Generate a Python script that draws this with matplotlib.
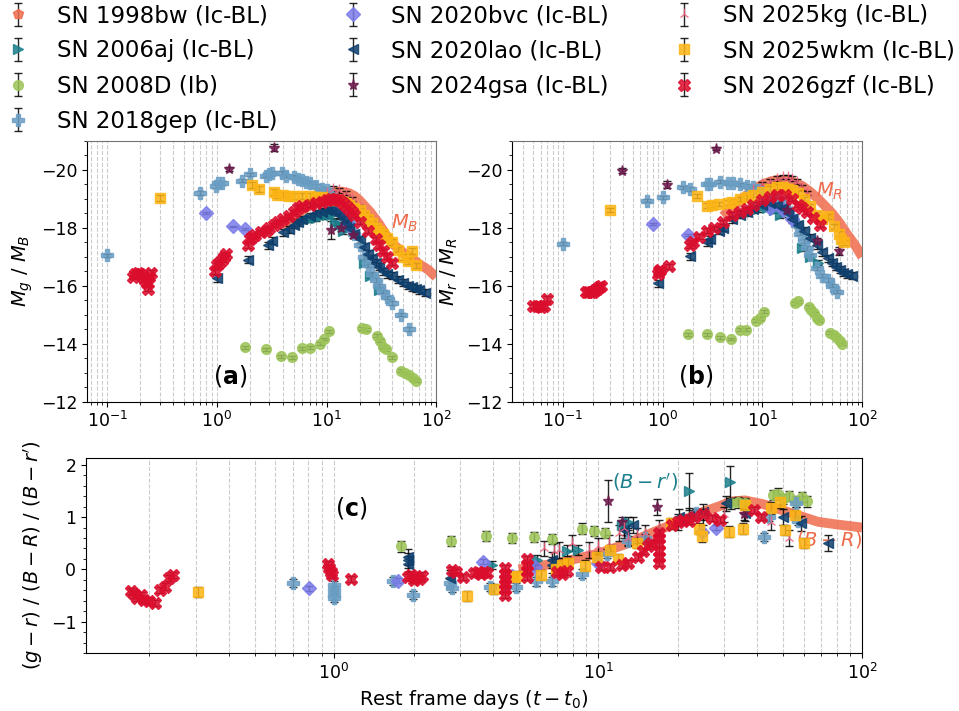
import matplotlib
matplotlib.use("Agg")
import matplotlib.pyplot as plt
import numpy as np
from matplotlib.ticker import MultipleLocator

# ---------------- panel (a): M_g / M_B ----------------
bw_ta = [4, 6, 8, 10, 12, 14, 16, 18, 20, 25, 30, 35, 40, 50, 60, 70, 85, 100]
bw_ma = [-18.0, -18.6, -18.95, -19.15, -19.25, -19.25, -19.2, -19.1, -18.95, -18.55,
         -18.15, -17.75, -17.45, -17.15, -16.95, -16.75, -16.55, -16.3]

aj_ta = [6.0, 7.0, 8.0, 9.0, 10.0, 11.0, 12.0, 13.0, 14.0, 22.0, 25.0, 30.0]
aj_ma = [-18.25, -18.3, -18.35, -18.4, -18.45, -18.45, -18.2, -18.1, -17.9, -16.8, -16.35, -15.85]

d_ta = [1.8, 2.8, 3.8, 4.8, 6.0, 7.0, 8.7, 9.5, 10.5, 21.0, 23.0, 29.0, 31.0, 33.0, 35.0,
        40.0, 48.0, 52.0, 57.0, 62.0, 66.0]
d_ma = [-13.87, -13.8, -13.56, -13.53, -13.84, -13.86, -13.99, -14.16, -14.42, -14.53, -14.5,
        -14.28, -14.1, -13.9, -13.8, -13.53, -13.06, -12.98, -12.9, -12.8, -12.72]

gep_ta = [0.1, 0.7, 0.98, 1.02, 1.1, 1.7, 2.0, 2.8, 3.0, 3.2, 3.9, 4.3, 5.0, 5.5, 6.0, 6.5,
          7.0, 8.0, 9.0, 10.0, 11.0, 12.0, 13.0, 14.0, 16.0, 18.0, 20.0, 22.0, 24.0, 26.0,
          28.0, 30.0, 33.0, 36.0, 40.0, 48.0, 57.0]
gep_ma = [-17.05, -19.2, -19.45, -19.55, -19.55, -19.63, -19.85, -19.8, -19.85, -19.9, -19.9,
          -19.8, -19.75, -19.7, -19.65, -19.6, -19.55, -19.45, -19.35, -19.3, -19.15, -19.0,
          -18.8, -18.6, -18.2, -17.8, -17.4, -17.0, -16.7, -16.4, -16.2, -16.0, -15.8, -15.6,
          -15.4, -15.0, -14.5]

bvc_ta = [0.8, 1.4, 1.8, 12.0, 14.0, 16.0]
bvc_ma = [-18.5, -18.05, -17.95, -18.7, -18.5, -18.1]

lao_ta = [1.0, 1.9, 2.9, 3.2, 4.0, 4.5, 5.0, 5.5, 6.0, 7.0, 8.0, 9.0, 10.0, 11.0, 12.0, 13.0,
          14.0, 15.0, 16.0, 18.0, 20.0, 22.0, 24.0, 26.0, 28.0, 30.0, 33.0, 36.0, 40.0, 45.0,
          50.0, 55.0, 60.0, 65.0, 70.0, 80.0]
lao_ma = [-16.25, -16.9, -17.4, -17.55, -17.85, -17.95, -18.1, -18.2, -18.3, -18.4, -18.5,
          -18.55, -18.6, -18.6, -18.55, -18.45, -18.3, -18.15, -18.0, -17.8, -17.6, -17.35,
          -17.1, -16.95, -16.8, -16.65, -16.5, -16.4, -16.35, -16.2, -16.1, -16.0, -15.95,
          -15.9, -15.85, -15.75]

gsa_ta = [1.3, 3.3, 11.0, 13.5, 17.3]
gsa_ma = [-20.03, -20.77, -17.92, -18.0, -17.75]
gsa_ea = [0.08, 0.12, 0.3, 0.1, 0.1]

kg_ta = [8.0, 10.0, 11.5, 13.0, 15.0, 17.0, 20.0]
kg_ma = [-19.0, -19.2, -19.35, -19.3, -19.2, -19.0, -18.7]

wkm_ta = [0.3, 2.1, 2.4, 3.3, 3.5, 4.0, 4.5, 5.0, 6.0, 7.0, 8.0, 9.0, 10.0, 11.0, 12.0, 13.0,
          14.0, 15.0, 16.0, 18.0, 20.0, 22.0, 24.0, 26.0, 28.0, 30.0, 33.0, 36.0, 40.0, 45.0,
          50.0, 55.0, 60.0, 65.0]
wkm_ma = [-19.04, -19.48, -19.34, -19.25, -19.13, -19.15, -19.1, -19.1, -19.1, -19.1, -19.05,
          -19.05, -19.0, -19.0, -18.95, -18.95, -18.9, -18.85, -18.8, -18.7, -18.6, -18.45,
          -18.3, -18.15, -18.0, -17.9, -17.8, -17.65, -17.5, -17.25, -17.0, -16.85, -17.2, -16.7]

gzf_ta = [0.17, 0.18, 0.19, 0.2, 0.21, 0.22, 0.23, 0.235, 0.24, 0.25,
          0.95, 1.0, 1.05, 1.1, 1.15, 1.2,
          1.9, 2.0, 2.1, 2.2, 2.5, 2.8, 3.0, 3.3, 3.6, 4.0, 4.5,
          5.0, 5.5, 6.0, 7.0, 8.0, 9.0, 10.0, 11.0, 12.0, 13.0, 14.0, 15.0, 16.0, 17.0, 18.0,
          20.0, 24.0, 28.0, 30.0, 33.0, 36.0, 40.0]
gzf_ma = [-16.3, -16.4, -16.45, -16.4, -16.3, -16.2, -16.1, -15.9, -16.3, -16.45,
          -16.5, -16.7, -16.8, -16.9, -17.0, -17.1,
          -17.4, -17.6, -17.7, -17.75, -17.85, -17.9, -18.0, -18.1, -18.2, -18.3, -18.4,
          -18.55, -18.7, -18.75, -18.8, -18.85, -18.9, -18.95, -19.0, -19.0, -18.95, -18.85,
          -18.75, -18.65, -18.55, -18.45,
          -18.2, -17.9, -17.6, -17.4, -17.2, -17.0, -16.8]

# ---------------- panel (b): M_r / M_R ----------------
bw_tb = [4, 6, 8, 10, 12, 14, 16, 18, 20, 25, 30, 35, 40, 50, 60, 70, 85, 100]
bw_mb = [-18.4, -18.95, -19.3, -19.5, -19.6, -19.65, -19.65, -19.65, -19.6, -19.45, -19.25,
         -19.05, -18.85, -18.5, -18.15, -17.8, -17.4, -17.0]

aj_tb = [7.0, 9.0, 11.0, 13.0, 15.0, 25.0, 30.0, 36.0]
aj_mb = [-18.5, -18.65, -18.7, -18.6, -18.45, -17.3, -17.0, -16.8]

d_tb = [1.8, 2.8, 3.8, 4.8, 6.0, 6.8, 8.7, 9.5, 10.5, 21.0, 23.0, 29.0, 31.0, 33.0, 35.0,
        37.0, 48.0, 52.0, 56.0, 60.0, 63.0]
d_mb = [-14.33, -14.33, -14.22, -14.16, -14.48, -14.48, -14.79, -14.88, -15.1, -15.4, -15.47,
        -15.28, -15.17, -15.05, -14.88, -14.8, -14.37, -14.3, -14.2, -14.08, -14.0]

gep_tb = [0.1, 0.7, 1.0, 1.6, 1.9, 2.8, 3.0, 3.8, 4.5, 5.1, 6.0, 7.0, 8.0, 9.0, 10.0, 11.0,
          12.0, 13.0, 14.0, 16.0, 18.0, 20.0, 22.0, 24.0, 26.0, 28.0, 30.0, 35.0, 40.0, 45.0,
          50.0, 56.0]
gep_mb = [-17.45, -18.94, -19.05, -19.4, -19.34, -19.53, -19.5, -19.6, -19.55, -19.55, -19.5,
          -19.45, -19.4, -19.3, -19.25, -19.15, -19.05, -19.0, -18.95, -18.9, -18.65, -18.4,
          -18.1, -17.8, -17.55, -17.3, -17.05, -16.6, -16.35, -16.2, -16.0, -15.8]

bvc_tb = [0.8, 1.8, 12.0, 16.0, 20.0]
bvc_mb = [-18.14, -17.76, -18.7, -18.6, -18.3]

lao_tb = [0.9, 1.9, 2.8, 3.0, 3.7, 4.0, 5.0, 6.0, 7.0, 8.0, 10.0, 12.0, 14.0, 16.0, 18.0,
          20.0, 23.0, 26.0, 30.0, 35.0, 40.0, 45.0, 50.0, 55.0, 60.0, 65.0, 70.0, 80.0]
lao_mb = [-16.08, -17.02, -17.5, -17.6, -17.9, -18.0, -18.3, -18.45, -18.55, -18.65, -18.8,
          -18.85, -18.8, -18.7, -18.5, -18.3, -18.1, -17.9, -17.65, -17.4, -17.15, -16.95,
          -16.8, -16.65, -16.55, -16.45, -16.4, -16.35]

gsa_tb = [0.39, 1.1, 3.4, 17.8, 35.6, 58.0]
gsa_mb = [-19.97, -19.49, -20.73, -18.6, -17.56, -17.2]
gsa_eb = [0.08, 0.12, 0.05, 0.1, 0.1, 0.15]

kg_tb = [8.0, 10.0, 12.0, 14.0, 16.0, 18.0, 20.0, 22.0, 25.0, 28.0]
kg_mb = [-19.3, -19.5, -19.6, -19.7, -19.75, -19.75, -19.7, -19.6, -19.4, -19.2]

wkm_tb = [0.3, 2.2, 2.8, 3.1, 3.7, 4.5, 5.0, 6.0, 7.0, 8.0, 10.0, 12.0, 14.0, 16.0, 18.0,
          20.0, 23.0, 26.0, 30.0, 35.0, 40.0, 46.0, 52.0, 58.0, 62.0, 66.0]
wkm_mb = [-18.62, -19.1, -18.77, -18.8, -18.82, -18.87, -18.9, -19.0, -19.07, -19.15, -19.25,
          -19.35, -19.42, -19.4, -19.35, -19.3, -19.2, -19.0, -18.75, -18.45, -18.3, -18.4,
          -18.05, -17.8, -17.6, -17.5]

gzf_tb = [0.05, 0.055, 0.06, 0.065, 0.07,
          0.17, 0.18, 0.19, 0.2, 0.21, 0.22, 0.23, 0.24,
          0.9, 0.92, 0.95, 1.15,
          1.9, 2.0, 2.3, 2.8, 3.3, 4.0, 5.0, 6.0, 7.0, 8.0, 10.0, 12.0, 14.0, 17.0, 20.0,
          23.0, 25.0, 28.0, 32.0, 38.0]
gzf_mb = [-15.3, -15.3, -15.25, -15.3, -15.55,
          -15.8, -15.8, -15.8, -15.8, -15.85, -15.9, -15.95, -16.0,
          -16.4, -16.5, -16.55, -16.67,
          -17.4, -17.5, -17.7, -17.9, -18.0, -18.2, -18.45, -18.55, -18.65, -18.8, -18.95,
          -19.05, -19.15, -19.15, -19.0, -18.8, -18.7, -18.55, -18.35, -18.1]

# ---------------- panel (c): colours ----------------
bw_tc = [5, 7, 10, 13, 16, 20, 25, 28.5, 32, 36, 42, 50, 60, 68, 80, 100]
bw_cc = [0.0, 0.12, 0.3, 0.5, 0.7, 0.9, 1.1, 1.2, 1.3, 1.32, 1.25, 1.13, 1.0, 0.91, 0.86, 0.8]

aj_tc = [3.98, 5.85, 7.6, 8.4, 12.3, 13.0, 22.0, 31.5]
aj_cc = [0.08, 0.18, 0.36, 0.37, 0.85, 0.9, 1.49, 1.67]
aj_ec = [0.08, 0.1, 0.1, 0.1, 0.1, 0.1, 0.35, 0.3]

d_tc = [1.8, 2.78, 3.76, 4.72, 5.74, 6.7, 8.66, 9.63, 10.6, 32.0, 34.0, 36.0, 46.0, 48.0,
        50.0, 53.0, 56.0, 59.0, 62.0]
d_cc = [0.44, 0.54, 0.64, 0.6, 0.62, 0.58, 0.78, 0.73, 0.7, 1.26, 1.28, 1.26, 1.42, 1.45,
        1.35, 1.4, 1.3, 1.38, 1.3]

gep_tc = [0.7, 1.0, 1.0, 1.0, 1.0, 1.67, 1.99, 2.74, 2.8, 3.9, 4.87, 5.8, 6.7, 8.7, 10.8,
          13.0, 15.0, 23.5, 42.6, 44.5, 56.0, 57.0]
gep_cc = [-0.26, -0.3, -0.4, -0.5, -0.55, -0.22, -0.49, -0.27, -0.35, -0.34, -0.34, -0.23,
          -0.23, -0.08, 0.3, 0.55, 0.6, 1.07, 0.62, 1.0, 1.27, 0.92]

bvc_tc = [0.805, 1.75, 3.67, 4.72, 5.75, 10.0, 24.7, 27.9]
bvc_cc = [-0.36, -0.22, 0.15, -0.13, 0.05, 0.13, 0.72, 0.8]

lao_tc = [1.9, 1.9, 1.9, 2.74, 6.7, 6.7, 12.5, 13.5, 20.2, 22.0, 25.0, 30.6, 36.0, 50.0,
          58.6, 74.0]
lao_cc = [0.1, 0.17, 0.24, -0.17, 0.08, 0.18, 0.75, 0.85, 1.0, 1.02, 1.1, 1.26, 1.07, 1.0,
          0.88, 0.5]

gsa_tc = [10.9, 12.3, 16.7, 35.6]
gsa_cc = [1.31, 0.9, 1.19, 1.05]
gsa_ec = [0.4, 0.1, 0.15, 0.1]

kg_tc = [6.25, 6.8, 7.1, 7.95, 9.2, 10.0, 11.0, 12.0, 12.5, 13.0, 14.0, 15.0, 17.0, 20.0,
         25.0, 30.0, 45.0, 53.0]
kg_cc = [0.4, 0.35, 0.37, 0.5, 0.37, 0.45, 0.5, 0.7, 0.8, 0.6, 0.65, 0.7, 0.8, 0.9, 1.0,
         1.05, 0.9, 0.6]

wkm_tc = [0.305, 3.2, 4.05, 4.8, 4.95, 6.07, 6.9, 7.3, 7.7, 8.9, 9.9, 11.1, 11.9, 14.0, 18.9,
          24.1, 24.7, 31.2, 35.4, 36.0, 45.0, 49.0, 51.0, 55.7, 60.0]
wkm_cc = [-0.43, -0.51, -0.38, -0.15, -0.13, -0.11, 0.0, 0.08, 0.12, 0.07, 0.23, 0.37, 0.2,
          0.5, 0.88, 0.78, 0.63, 0.72, 0.78, 1.24, 1.18, 1.28, 0.75, 1.04, 0.5]

gzf_tc = [0.17, 0.175, 0.18, 0.185, 0.19, 0.2, 0.21, 0.22, 0.228, 0.237, 0.245,
          0.95, 0.96, 0.97, 0.98, 1.16,
          1.9, 1.95, 2.0, 2.05, 2.1, 2.15,
          2.8, 2.9, 3.07,
          3.4, 3.5, 3.6, 3.7, 3.8,
          4.45, 4.45, 4.45, 4.45, 4.45, 4.45,
          5.4, 5.4, 5.4, 5.4,
          7.0, 7.3, 7.6, 10.3, 11.1, 12.3, 13.0,
          14.2, 14.8, 15.4, 15.8,
          17.0, 17.0, 17.0, 17.0, 17.0, 17.0,
          19.0, 20.0, 21.0, 22.0, 23.0, 25.0, 27.0, 29.0,
          39.0, 41.5]
gzf_cc = [-0.42, -0.48, -0.55, -0.5, -0.58, -0.6, -0.65, -0.4, -0.33, -0.17, -0.11,
          0.1, 0.02, -0.05, -0.1, -0.19,
          -0.14, -0.1, -0.2, -0.15, -0.18, -0.12,
          -0.01, -0.05, -0.14,
          -0.07, -0.05, -0.08, -0.06, -0.07,
          0.02, -0.08, -0.18, -0.28, -0.38, -0.49,
          0.2, 0.08, -0.03, -0.15,
          -0.05, -0.09, -0.04, 0.05, 0.05, 0.08, 0.12,
          0.24, 0.35, 0.45, 0.5,
          0.12, 0.24, 0.36, 0.48, 0.6, 0.7,
          0.85, 0.9, 0.95, 0.92, 1.0, 1.05, 0.98, 0.95,
          1.13, 1.0]

# ---------------- styles ----------------
names = ["1998bw", "2006aj", "2008D", "2018gep", "2020bvc", "2020lao", "2024gsa",
         "2025kg", "2025wkm", "2026gzf"]
types = ["Ic-BL", "Ic-BL", "Ib", "Ic-BL", "Ic-BL", "Ic-BL", "Ic-BL", "Ic-BL", "Ic-BL", "Ic-BL"]
style = {
    "1998bw": ("#EF6B4C", "p", 7),
    "2006aj": ("#1B7F8C", ">", 7),
    "2008D": ("#9CC457", "o", 7),
    "2018gep": ("#6A9EC4", "P", 8),
    "2020bvc": ("#7B7BEA", "D", 7),
    "2020lao": ("#0E3F6E", "<", 7),
    "2024gsa": ("#6E1A4C", "*", 8),
    "2025kg": ("#F2607E", "2", 8),
    "2025wkm": ("#FDB515", "s", 7),
    "2026gzf": ("#DC0D2D", "X", 8),
}
ANN = 14


def draw(ax, t, y, key, err=0.06):
    color, marker, ms = style[key]
    return ax.errorbar(t, y, yerr=err, fmt=marker, color=color, mec=color, ms=ms,
                       alpha=0.85, ecolor="k", elinewidth=1, capsize=3, zorder=3)


def template(ax, t, y):
    ax.plot(t, y, color=style["1998bw"][0], lw=7, alpha=0.85, zorder=2,
            solid_capstyle="butt")


fig = plt.figure(figsize=(9.59, 7.11), dpi=100)
ax_a = fig.add_axes([0.0907, 0.4353, 0.364, 0.3664])
ax_b = fig.add_axes([0.534, 0.4353, 0.365, 0.3664])
ax_c = fig.add_axes([0.0897, 0.0816, 0.8093, 0.2742])

# panel a
template(ax_a, bw_ta, bw_ma)
draw(ax_a, aj_ta, aj_ma, "2006aj", 0.1)
draw(ax_a, d_ta, d_ma, "2008D", 0.05)
draw(ax_a, gep_ta, gep_ma, "2018gep", 0.06)
draw(ax_a, bvc_ta, bvc_ma, "2020bvc", 0.03)
draw(ax_a, lao_ta, lao_ma, "2020lao", 0.12)
draw(ax_a, gsa_ta, gsa_ma, "2024gsa", gsa_ea)
draw(ax_a, kg_ta, kg_ma, "2025kg", 0.08)
draw(ax_a, wkm_ta, wkm_ma, "2025wkm", 0.1)
draw(ax_a, gzf_ta, gzf_ma, "2026gzf", 0.08)

# panel b
template(ax_b, bw_tb, bw_mb)
draw(ax_b, aj_tb, aj_mb, "2006aj", 0.1)
draw(ax_b, d_tb, d_mb, "2008D", 0.05)
draw(ax_b, gep_tb, gep_mb, "2018gep", 0.06)
draw(ax_b, bvc_tb, bvc_mb, "2020bvc", 0.03)
draw(ax_b, lao_tb, lao_mb, "2020lao", 0.12)
draw(ax_b, gsa_tb, gsa_mb, "2024gsa", gsa_eb)
draw(ax_b, kg_tb, kg_mb, "2025kg", 0.08)
draw(ax_b, wkm_tb, wkm_mb, "2025wkm", 0.08)
draw(ax_b, gzf_tb, gzf_mb, "2026gzf", 0.08)

# panel c
template(ax_c, bw_tc, bw_cc)
draw(ax_c, aj_tc, aj_cc, "2006aj", aj_ec)
draw(ax_c, d_tc, d_cc, "2008D", 0.1)
draw(ax_c, gep_tc, gep_cc, "2018gep", 0.08)
draw(ax_c, bvc_tc, bvc_cc, "2020bvc", 0.05)
draw(ax_c, lao_tc, lao_cc, "2020lao", 0.15)
draw(ax_c, gsa_tc, gsa_cc, "2024gsa", gsa_ec)
draw(ax_c, kg_tc, kg_cc, "2025kg", 0.15)
draw(ax_c, wkm_tc, wkm_cc, "2025wkm", 0.1)
draw(ax_c, gzf_tc, gzf_cc, "2026gzf", 0.06)

# legend proxies
handles = []
labels = []
for key, typ in zip(names, types):
    color, marker, ms = style[key]
    h = ax_c.errorbar([np.nan], [np.nan], yerr=[0.1], fmt=marker, color=color, mec=color,
                      ms=ms, alpha=0.85, ecolor="k", elinewidth=1, capsize=3)
    handles.append(h)
    labels.append(f"SN {key} ({typ})")
fig.legend(handles, labels, loc="upper left", bbox_to_anchor=(-0.005, 0.994), ncol=3,
           frameon=False, fontsize=16.5, handlelength=2.0, handletextpad=0.7,
           columnspacing=2.27, labelspacing=0.53, borderpad=0, borderaxespad=0)

for ax in (ax_a, ax_b):
    ax.set_xscale("log")
    ax.set_ylim(-12, -21)
    ax.yaxis.set_major_locator(MultipleLocator(2))
    ax.yaxis.set_minor_locator(MultipleLocator(0.5))
    for s in ("top", "right"):
        ax.spines[s].set_color("0.45")
ax_a.set_xlim(0.065, 100)
ax_b.set_xlim(0.031, 100)
ax_c.set_xscale("log")
ax_c.set_xlim(0.115, 100)
ax_c.set_ylim(-1.6, 2.13)
ax_c.yaxis.set_major_locator(MultipleLocator(1))
ax_c.yaxis.set_minor_locator(MultipleLocator(0.2))

for ax in (ax_a, ax_b, ax_c):
    ax.grid(True, which="both", axis="x", ls="--", color="0.8", lw=0.8)
    ax.set_axisbelow(True)
    ax.tick_params(labelsize=12.5)

ax_a.set_ylabel(r"$M_g$ / $M_B$", fontsize=14)
ax_b.set_ylabel(r"$M_r$ / $M_R$", fontsize=14)
ax_c.set_ylabel(r"$(g-r)$ / $(B-R)$ / $(B-r')$", fontsize=14)
ax_c.set_xlabel(r"Rest frame days $(t-t_0)$", fontsize=14)

coral = style["1998bw"][0]
ax_a.text(52, -18.15, r"$M_B$", color=coral, fontsize=ANN, ha="center", va="center")
ax_b.text(47, -19.25, r"$M_R$", color=coral, fontsize=ANN, ha="center", va="center")
ax_c.text(15, 1.68, r"$(B-r')$", color=style["2006aj"][0], fontsize=ANN,
          ha="center", va="center")
ax_c.text(75, 0.58, r"$(B-R)$", color=coral, fontsize=ANN, ha="center", va="center")

ax_a.text(0.41, 0.096, r"($\mathbf{a}$)", transform=ax_a.transAxes, fontsize=17,
          ha="center", va="center")
ax_b.text(0.523, 0.096, r"($\mathbf{b}$)", transform=ax_b.transAxes, fontsize=17,
          ha="center", va="center")
ax_c.text(0.341, 0.744, r"($\mathbf{c}$)", transform=ax_c.transAxes, fontsize=17,
          ha="center", va="center")

fig.savefig("out.png", dpi=100)
